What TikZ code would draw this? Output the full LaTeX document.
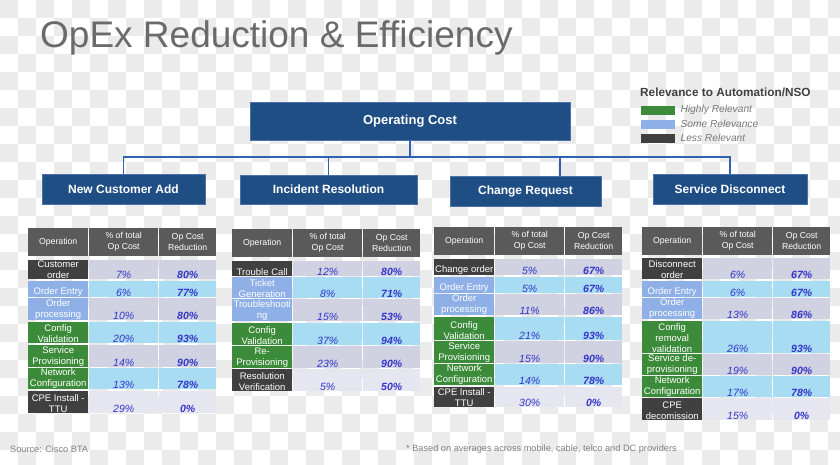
\documentclass[tikz,border=0pt]{standalone}
\usepackage{fontspec}
\setmainfont{Liberation Sans}
\usepackage{tikz}
\usetikzlibrary{positioning}
\definecolor{boxblue}{HTML}{1F4E85}
\definecolor{boxedge}{HTML}{4A72A6}
\definecolor{linkclr}{HTML}{2F62B0}
\definecolor{hdrgray}{HTML}{5A5A5A}
\definecolor{lessclr}{HTML}{404040}
\definecolor{someclr}{HTML}{8EB0E6}
\definecolor{highclr}{HTML}{3C8B3A}
\definecolor{lavclr}{HTML}{D0D2E2}
\definecolor{cyanclr}{HTML}{A8DCF2}
\definecolor{paleclr}{HTML}{E5E6EF}
\definecolor{numclr}{HTML}{3434C8}
\definecolor{titleclr}{HTML}{6A6A6A}
\definecolor{chkclr}{HTML}{EBEBEB}

\newcommand\optable[4]{%
  \node[hdr, minimum width=60pt] (#1-h1) at (#2,#3) {Operation};
  \node[hdr, minimum width=69pt] (#1-h2) at (#2+61,#3) {\% of total\\Op Cost};
  \node[hdr, minimum width=57pt] (#1-h3) at (#2+131,#3) {Op Cost\\Reduction};
  \foreach \ya/\yb/\rc/\bg/\op/\pc/\rd [count=\k] in {#4} {
    \node[cell, fill=\rc, minimum width=60pt, minimum height={\yb-\ya}] (#1-\k-a) at (#2,\ya) {};
    \node[cell, fill=\bg, minimum width=69pt, minimum height={\yb-\ya}] (#1-\k-b) at (#2+61,\ya) {};
    \node[cell, fill=\bg, minimum width=57pt, minimum height={\yb-\ya}] (#1-\k-c) at (#2+131,\ya) {};
    \node[optxt] (#1-\k-op) at (#1-\k-a.south) {\op};
    \node[pcttxt] (#1-\k-pc) at (#1-\k-b.south) {\pc\%};
    \node[redtxt] (#1-\k-rd) at (#1-\k-c.south) {\rd\%};
  }%
}

\begin{document}
\begin{tikzpicture}[x=1pt, y=-1pt,
    box/.style={draw=boxedge, line width=0.8pt, fill=boxblue, text=white,
                font=\fontsize{12}{14}\selectfont\bfseries, inner sep=0pt},
    link/.style={draw=linkclr, line width=1.1pt},
    hdr/.style={anchor=north west, fill=hdrgray, text=white, minimum height=28pt,
                inner sep=0pt, align=center, font=\fontsize{8.7}{11}\selectfont},
    cell/.style={anchor=north west, inner sep=0pt, draw=none},
    optxt/.style={anchor=south, inner sep=0.3pt, text=white, align=center,
                  font=\fontsize{9.5}{11}\selectfont},
    pcttxt/.style={anchor=south, inner sep=1pt, text=numclr,
                   font=\fontsize{10.5}{12}\selectfont\itshape},
    redtxt/.style={pcttxt, font=\fontsize{10.5}{12}\selectfont\bfseries\itshape},
    swatch/.style={anchor=north west, minimum width=34pt, minimum height=9pt, inner sep=0pt},
    leg/.style={anchor=west, inner sep=0pt, text=titleclr!90,
                font=\fontsize{10.2}{12}\selectfont\itshape},
    note/.style={anchor=west, inner sep=0pt, text=gray, font=\fontsize{9.2}{11}\selectfont},
  ]
  \useasboundingbox (0,0) rectangle (840,465);
  \clip (0,0) rectangle (840,465);
  \fill[white] (0,0) rectangle (840,465);
  \foreach \i in {0,...,46}{
    \foreach \j in {0,...,25}{
      \pgfmathtruncatemacro\odd{mod(\i+\j,2)}
      \ifnum\odd=0 \fill[chkclr] (\i*18,\j*18) rectangle ++(18,18); \fi
    }
  }

  \node[anchor=base west, inner sep=0pt, text=titleclr, font=\fontsize{37}{42}\selectfont]
    (title) at (40,48) {OpEx Reduction \& Efficiency};

  \node[box, minimum width=320pt, minimum height=38pt, font=\fontsize{13}{15}\selectfont\bfseries]
    (cost) at (410,121) {Operating Cost};
  \node[box, minimum width=163pt, minimum height=30pt] (nca) at (123.5,189) {New Customer Add};
  \node[box, minimum width=177pt, minimum height=29pt] (inc) at (328.5,189.5) {Incident Resolution};
  \node[box, minimum width=151pt, minimum height=30pt] (chg) at (525.5,191) {Change Request};
  \node[box, minimum width=154pt, minimum height=30pt] (dis) at (730,189) {Service Disconnect};

  \coordinate (bus) at (410,157);
  \draw[link] (cost) -- (bus);
  \draw[link] (bus) -| (nca);
  \draw[link] (bus) -| (inc);
  \draw[link] (bus) -| ([xshift=34.5pt]chg.north);
  \draw[link] (bus) -| (dis);

  \node[anchor=west, inner sep=0pt, text=lessclr, font=\fontsize{11.8}{14}\selectfont\bfseries]
    (legtitle) at (640,92) {Relevance to Automation/NSO};
  \node[swatch, fill=highclr] (sw1) at (641,105.5) {};
  \node[swatch, fill=someclr] (sw2) at (641,119.5) {};
  \node[swatch, fill=lessclr] (sw3) at (641,133.5) {};
  \node[leg, right=5pt of sw1] (leg1) {Highly Relevant};
  \node[leg, right=5pt of sw2] (leg2) {Some Relevance};
  \node[leg, right=5pt of sw3] (leg3) {Less Relevant};

  \optable{ta}{28}{228}{
    260/279/lessclr/lavclr/{Customer\\order}/7/80,
    281/297/someclr/cyanclr/{Order Entry}/6/77,
    298/320/someclr/lavclr/{Order\\processing}/10/80,
    322/343/highclr/cyanclr/{Config\\Validation}/20/93,
    345/367/highclr/lavclr/{Service\\Provisioning}/14/90,
    368/389/highclr/cyanclr/{Network\\Configuration}/13/78,
    391/413/lessclr/paleclr/{CPE Install -\\TTU}/29/0}
  \optable{tb}{232}{229}{
    261/276/lessclr/lavclr/{Trouble Call}/12/80,
    277/298/someclr/cyanclr/{Ticket\\Generation}/8/71,
    299/321/someclr/lavclr/{Troubleshooti\\ng}/15/53,
    323/345/highclr/cyanclr/{Config\\Validation}/37/94,
    346/368/highclr/lavclr/{Re-\\Provisioning}/23/90,
    369/391/lessclr/paleclr/{Resolution\\Verification}/5/50}
  \optable{tc}{434}{227}{
    259/275/lessclr/lavclr/{Change order}/5/67,
    277/293/someclr/cyanclr/{Order Entry}/5/67,
    294/315/someclr/lavclr/{Order\\processing}/11/86,
    317/340/highclr/cyanclr/{Config\\Validation}/21/93,
    341/363/highclr/lavclr/{Service\\Provisioning}/15/90,
    364/385/highclr/cyanclr/{Network\\Configuration}/14/78,
    387/407/lessclr/paleclr/{CPE Install -\\TTU}/30/0}
  \optable{td}{642}{227}{
    258/279/lessclr/lavclr/{Disconnect\\order}/6/67,
    281/297/someclr/cyanclr/{Order Entry}/6/67,
    298/319/someclr/lavclr/{Order\\processing}/13/86,
    321/353/highclr/cyanclr/{Config\\removal\\validation}/26/93,
    354/375/highclr/lavclr/{Service de-\\provisioning}/19/90,
    376/397/highclr/cyanclr/{Network\\Configuration}/17/78,
    398/420/lessclr/paleclr/{CPE\\decomission}/15/0}

  \node[note] (src) at (10,449) {Source: Cisco BTA};
  \node[note] (foot) at (406,449) {* Based on averages across mobile, cable, telco and DC providers};
\end{tikzpicture}
\end{document}
